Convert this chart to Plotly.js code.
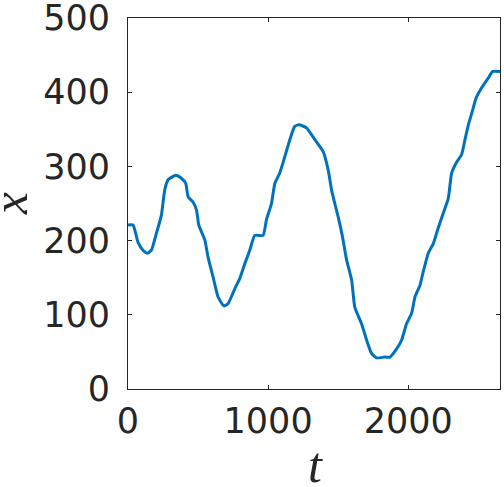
<!DOCTYPE html>
<html>
<head>
<meta charset="utf-8">
<script src="https://cdn.plot.ly/plotly-3.0.1.min.js"></script>
<style>
  html, body { margin: 0; padding: 0; background: #fff; }
  #chart { width: 504px; height: 487px; }
</style>
</head>
<body>
<div id="chart"></div>
<script>
// trajectory
var tVals = [0, 36, 71, 107, 138, 167, 203, 238, 262, 286, 341, 381, 412, 429, 464, 489, 505,
  548, 571, 607, 643, 684, 714, 762, 798, 834, 869, 905, 964, 988, 1024, 1048, 1083, 1119,
  1155, 1190, 1221, 1274, 1334, 1393, 1429, 1453, 1476, 1500, 1531, 1560, 1596, 1619, 1667,
  1703, 1738, 1774, 1834, 1869, 1917, 1953, 1988, 2024, 2048, 2084, 2107, 2143, 2179, 2214,
  2250, 2286, 2310, 2346, 2381, 2405, 2429, 2460, 2484, 2524, 2571, 2603, 2655];
var xVals = [221, 221, 198, 187, 183, 187, 210, 234, 268, 282, 288, 284, 277, 259, 252, 241, 221,
  201, 178, 151, 124, 112, 115, 135, 149, 169, 187, 207, 207, 228, 250, 277, 291, 313,
  336, 354, 356, 352, 336, 320, 295, 268, 250, 232, 205, 174, 147, 110, 88,
  66, 48, 42, 43, 43, 54, 66, 88, 102, 124, 140, 158, 183, 196, 217,
  237, 257, 291, 306, 316, 336, 356, 376, 392, 406, 419, 428, 428];
var xTicks = [0, 1000, 2000];
var yTicks = [0, 100, 200, 300, 400, 500];

var axisCol = "#262626";
var tickFont = {family: "DejaVu Sans", size: 35, color: axisCol};
var titleFont = {family: "Liberation Serif", size: 50, color: axisCol};

var trace = {
  x: tVals,
  y: xVals,
  type: "scatter",
  mode: "lines",
  line: {color: "#0072BD", width: 3, shape: "spline", smoothing: 0.5},
  hoverinfo: "none"
};

var axisBase = {
  ticks: "inside",
  ticklen: 4,
  tickcolor: axisCol,
  showline: true,
  linecolor: axisCol,
  linewidth: 1,
  mirror: "ticks",
  showgrid: false,
  zeroline: false,
  tickfont: tickFont
};

var layout = {
  width: 504,
  height: 487,
  margin: {l: 128, r: 4, t: 18, b: 98},
  paper_bgcolor: "#fff",
  plot_bgcolor: "#fff",
  showlegend: false,
  xaxis: Object.assign({}, axisBase, {
    range: [0, 2655],
    tickvals: xTicks,
    ticklabelstandoff: 1
  }),
  yaxis: Object.assign({}, axisBase, {
    range: [-0.01, 500.01],
    tickvals: yTicks,
    ticklabelstandoff: 10,
    ticklabeloverflow: "allow"
  }),
  // axis titles placed as annotations so they sit where the reference has them
  annotations: [
    {text: "<i>t</i>", xref: "paper", yref: "paper", x: 0.503, y: -0.205,
     xanchor: "center", yanchor: "middle", showarrow: false, font: titleFont},
    {text: "<i>x</i>", xref: "paper", yref: "paper", x: -0.318, y: 0.50,
     xanchor: "center", yanchor: "middle", showarrow: false, textangle: -90, font: titleFont}
  ]
};

Plotly.newPlot("chart", [trace], layout, {staticPlot: true, displayModeBar: false});
</script>
</body>
</html>
